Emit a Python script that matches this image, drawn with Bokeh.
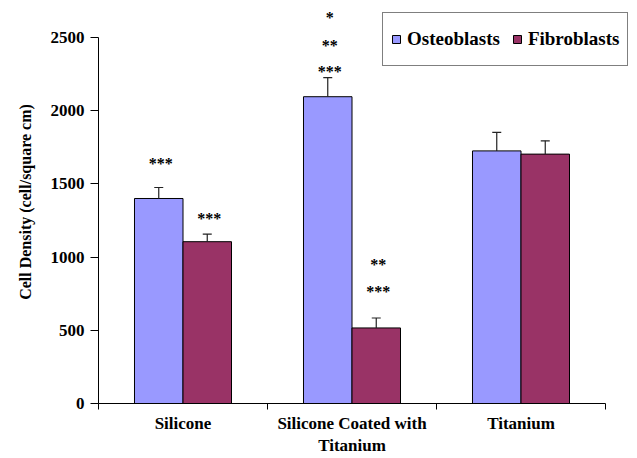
from bokeh.plotting import figure
from bokeh.models import (Range1d, FixedTicker, ColumnDataSource, Whisker, TeeHead,
                          Legend, LegendItem)
from bokeh.core.properties import value
from bokeh.embed import file_html
from bokeh.resources import INLINE

# ---- data ----
categories = ["Silicone", "Silicone Coated with\nTitanium", "Titanium"]
series_names = ["Osteoblasts", "Fibroblasts"]
osteoblasts = [1400, 2095, 1725]
osteoblasts_err = [75, 130, 127]
fibroblasts = [1105, 516, 1703]
fibroblasts_err = [52, 68, 91]
y_ticks = [0, 500, 1000, 1500, 2000, 2500]

# significance marks: category index, series index, label, y position
star_category = [0, 0, 1, 1, 1, 1, 1]
star_series = [0, 1, 0, 0, 0, 1, 1]
star_labels = ["***", "***", "*", "**", "***", "**", "***"]
star_y = [1650, 1276, 2650, 2459, 2282, 962, 777]

COLORS = ["#9999FF", "#993366"]
FONT = "Liberation Serif"
BAR_W = 0.287
Y_MAX = 2500

W, H = 637, 458
LEFT, RIGHT, TOP, BOTTOM = 98, 7, 0, 54
frame_h = H - TOP - BOTTOM
frame_w = W - LEFT - RIGHT
px_2500 = 404 - 37          # pixel height of the 0..2500 span
px_cat = 169                # pixel width of one category
Y_END = Y_MAX * frame_h / px_2500
X_END = frame_w / px_cat

p = figure(width=W, height=H, output_backend="svg", toolbar_location=None,
           x_range=Range1d(0, X_END), y_range=Range1d(0, Y_END),
           min_border_left=LEFT, min_border_right=RIGHT, min_border_top=TOP,
           min_border_bottom=BOTTOM)
p.xgrid.visible = False
p.ygrid.visible = False
p.outline_line_color = None

centers = [i + 0.5 for i in range(len(categories))]
offsets = [-BAR_W / 2, BAR_W / 2]
renderers = []
for s, (vals, errs) in enumerate([(osteoblasts, osteoblasts_err), (fibroblasts, fibroblasts_err)]):
    xs = [c + offsets[s] for c in centers]
    src = ColumnDataSource(dict(x=xs, top=vals, upper=[v + e for v, e in zip(vals, errs)]))
    r = p.vbar(x="x", top="top", bottom=0, width=BAR_W, source=src,
               fill_color=COLORS[s], line_color="black", line_width=1)
    renderers.append(r)
    w = Whisker(base="x", lower="top", upper="upper", source=src,
                lower_head=None, upper_head=TeeHead(size=9, line_color="#222222", line_width=1.2),
                line_color="#222222", line_width=1.2, level="glyph")
    p.add_layout(w)

star_x = [centers[c] + offsets[s] for c, s in zip(star_category, star_series)]
star_src = ColumnDataSource(dict(x=star_x, y=star_y, t=star_labels))
p.text(x="x", y="y", text="t", source=star_src, text_font=value(FONT),
       text_font_style="bold", text_font_size="16px", text_align="center",
       text_baseline="middle", y_offset=2, x_offset=2, text_color="black")

# y axis
ya = p.yaxis[0]
ya.ticker = FixedTicker(ticks=y_ticks)
ya.bounds = (0, Y_MAX)
ya.axis_label = "Cell Density (cell/square cm)"
ya.axis_label_text_font = FONT
ya.axis_label_text_font_style = "bold"
ya.axis_label_text_font_size = "16px"
ya.axis_label_text_color = "black"
ya.axis_label_standoff = 14
ya.major_label_text_font = FONT
ya.major_label_text_font_style = "bold"
ya.major_label_text_font_size = "17px"
ya.major_tick_out = 8
ya.major_tick_in = 0
ya.major_label_standoff = 6
ya.minor_tick_line_color = None
ya.axis_line_color = "black"
ya.major_tick_line_color = "black"
ya.major_label_text_color = "black"

# x axis
xa = p.xaxis[0]
xa.bounds = (0, len(categories))
xa.ticker = FixedTicker(ticks=centers, minor_ticks=list(range(len(categories) + 1)))
xa.major_label_overrides = {c: lab for c, lab in zip(centers, categories)}
xa.major_tick_line_color = None
xa.major_tick_out = 0
xa.major_tick_in = 0
xa.minor_tick_out = 6
xa.minor_tick_in = 0
xa.minor_tick_line_color = "black"
xa.major_label_standoff = 4
xa.major_label_text_font = FONT
xa.major_label_text_font_style = "bold"
xa.major_label_text_font_size = "17px"
xa.major_label_text_color = "black"
xa.axis_line_color = "black"

legend = Legend(items=[LegendItem(label=series_names[i], renderers=[renderers[i]]) for i in range(2)],
                location=(382 - LEFT, (H - BOTTOM) - 67), orientation="horizontal",
                label_text_font=FONT, label_text_font_style="bold", label_text_font_size="19px",
                label_text_color="black",
                glyph_width=10, glyph_height=10, label_standoff=6, spacing=12,
                padding=8, label_height=36, margin=0,
                border_line_color="black", border_line_width=1,
                background_fill_color="white", background_fill_alpha=1)
p.add_layout(legend, "center")

open("out.html", "w").write(file_html(p, INLINE))
